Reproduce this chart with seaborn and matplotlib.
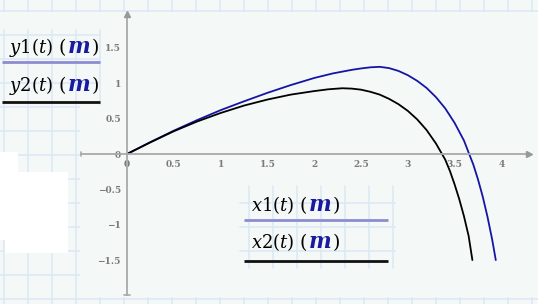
import numpy as np
import pandas as pd
import matplotlib
matplotlib.use("Agg")
import matplotlib.pyplot as plt
import seaborn as sns
from matplotlib.patches import Rectangle

# ---- data ----
x1 = [0, 0.25, 0.5, 0.75, 1.0, 1.25, 1.5, 1.75, 2.0, 2.2, 2.4, 2.5, 2.6, 2.7, 2.8, 2.9,
      3.0, 3.1, 3.2, 3.3, 3.4, 3.5, 3.6, 3.7, 3.75, 3.8, 3.85, 3.9, 3.94]
y1 = [0, 0.168, 0.33, 0.48, 0.62, 0.745, 0.865, 0.975, 1.075, 1.14, 1.19, 1.21, 1.226, 1.233, 1.215, 1.175,
      1.115, 1.035, 0.935, 0.805, 0.645, 0.44, 0.19, -0.15, -0.36, -0.6, -0.88, -1.2, -1.5]
x2 = [0, 0.25, 0.5, 0.75, 1.0, 1.25, 1.5, 1.75, 2.0, 2.15, 2.3, 2.4, 2.5, 2.6, 2.7, 2.8, 2.9,
      3.0, 3.1, 3.2, 3.3, 3.4, 3.45, 3.5, 3.55, 3.6, 3.65, 3.69]
y2 = [0, 0.165, 0.322, 0.46, 0.58, 0.685, 0.77, 0.84, 0.89, 0.915, 0.93, 0.925, 0.91, 0.88, 0.84, 0.78, 0.705,
      0.61, 0.49, 0.34, 0.15, -0.08, -0.24, -0.43, -0.64, -0.88, -1.16, -1.5]
xticks = [0, 0.5, 1, 1.5, 2, 2.5, 3, 3.5, 4]
xticklabels = ["0", "0.5", "1", "1.5", "2", "2.5", "3", "3.5", "4"]
yticks = [-1.5, -1, -0.5, 0, 0.5, 1, 1.5]
yticklabels = ["\u22121.5", "\u22121", "\u22120.5", "0", "0.5", "1", "1.5"]
legend_names = ["y1", "y2", "x1", "x2"]

sns.set_theme(style="white")
plt.rcParams["mathtext.fontset"] = "dejavuserif"

W, H = 538, 304
fig = plt.figure(figsize=(W / 100, H / 100), dpi=100)
BG = "#f4f8f6"
GRID = "#dde9f5"
fig.patch.set_facecolor(BG)

# background axes in pixel coordinates
bg = fig.add_axes([0, 0, 1, 1], zorder=0)
bg.set_xlim(0, W)
bg.set_ylim(H, 0)
bg.axis("off")


def gridbox(a, b, c, d, xoff, zo):
    bg.add_patch(Rectangle((a, c), b - a, d - c, fc=BG, ec="none", zorder=zo))
    gx = xoff
    while gx < b:
        if gx > a:
            bg.plot([gx, gx], [c, d], color=GRID, lw=1.2, zorder=zo + 0.5)
        gx += 24.0
    gy = 11
    while gy < d:
        if gy > c:
            bg.plot([a, b], [gy, gy], color=GRID, lw=1.2, zorder=zo + 0.5)
        gy += 24.0


gridbox(0, W, -1, H + 1, 3.5, 1)
bg.add_patch(Rectangle((80, 11.5), W - 80, 285.5, fc=BG, ec="none", zorder=3))
bg.add_patch(Rectangle((0, 11.5), 80, 18.5, fc=BG, ec="none", zorder=3))
gridbox(0, 100, 30, 104, 3.5, 4)
gridbox(240, 395, 186, 268, 8.8, 4)
# white patches on the left
bg.add_patch(Rectangle((0, 152), 18, 20, fc="white", ec="none", zorder=6))
bg.add_patch(Rectangle((0, 172), 68, 68, fc="white", ec="none", zorder=6))
bg.add_patch(Rectangle((5, 240), 63, 13, fc="white", ec="none", zorder=6))

# legend entries (text pieces laid out left to right by measuring)
LEG_BLUE = "#8c8cd2"
MBLUE = "#1a1aa0"
renderer = fig.canvas.get_renderer()


def entry(x0, base, name, line_y, lx0, lx1, lcolor):
    pieces = [(r"$%s\left(t\right)$" % name, 13, "black", 5),
              (r"$($", 13.5, "black", 0.5),
              (r"$\boldsymbol{m}$", 15.5, MBLUE, 1.0),
              (r"$)$", 13.5, "black", 0)]
    x = x0
    for s, fs, col, gap in pieces:
        t = bg.text(x, base, s, fontsize=fs, va="baseline", ha="left", color=col, zorder=10)
        ext = t.get_window_extent(renderer)
        x = x + ext.width + gap
    bg.plot([lx0, lx1], [line_y, line_y], color=lcolor, lw=2.0, zorder=10, solid_capstyle="butt")


entry(9, 53, legend_names[0], 61.5, 2, 100, LEG_BLUE)
entry(9, 91, legend_names[1], 101.5, 2, 100, "#111111")
entry(251, 211, legend_names[2], 219.5, 244, 388, LEG_BLUE)
entry(251, 248, legend_names[3], 260.5, 244, 388, "#111111")

# main plot axes
ax = fig.add_axes([80 / W, (H - 297) / H, (W - 80) / W, 286 / H], zorder=2)
ax.patch.set_alpha(0)
ppx = 93.6
ppy = 70.7
ax.set_xlim((80 - 127) / ppx, (W - 127) / ppx)
ax.set_ylim((154 - 297) / ppy, (154 - 11) / ppy)

df1 = pd.DataFrame({"x": x1, "y": y1})
df2 = pd.DataFrame({"x": x2, "y": y2})
sns.lineplot(data=df1, x="x", y="y", sort=False, estimator=None, color="#1515a5", lw=1.3, ax=ax)
sns.lineplot(data=df2, x="x", y="y", sort=False, estimator=None, color="black", lw=1.3, ax=ax)
for ln in ax.get_lines():
    ln.set_solid_joinstyle("round")

AX = "#a9a9a9"
for s in ["top", "right"]:
    ax.spines[s].set_visible(False)
ax.spines["left"].set_position(("data", 0))
ax.spines["bottom"].set_position(("data", 0))
ax.spines["left"].set_bounds(-2.0, 1.96)
ax.spines["bottom"].set_bounds(-0.49, 4.28)
for s in ["left", "bottom"]:
    ax.spines[s].set_color(AX)
    ax.spines[s].set_linewidth(1.3)
ax.plot(4.3, 0, marker=">", ms=5, color="#999999", clip_on=False, zorder=5)
ax.plot(0, 1.98, marker="^", ms=5, color="#999999", clip_on=False, zorder=5)
ax.plot([-0.035, 0.035], [-2.0, -2.0], color=AX, lw=1.2, clip_on=False)
ax.plot([-0.49, -0.49], [-0.03, 0.03], color=AX, lw=1.2, clip_on=False)

ax.set_xticks(xticks)
ax.set_xticklabels(xticklabels)
ax.set_yticks(yticks)
ax.set_yticklabels(yticklabels)
ax.tick_params(axis="x", direction="in", length=4, width=1, color=AX, pad=4,
               labelsize=6.5, labelcolor="#7a7a7a")
ax.tick_params(axis="y", direction="out", length=4, width=1, color=AX, pad=0.5,
               labelsize=6.5, labelcolor="#7a7a7a")
for lab in ax.get_xticklabels() + ax.get_yticklabels():
    lab.set_fontfamily("DejaVu Serif")
    lab.set_fontweight("bold")
ax.set_xlabel("")
ax.set_ylabel("")
ax.grid(False)

fig.savefig("out.png", dpi=100, facecolor=BG)
